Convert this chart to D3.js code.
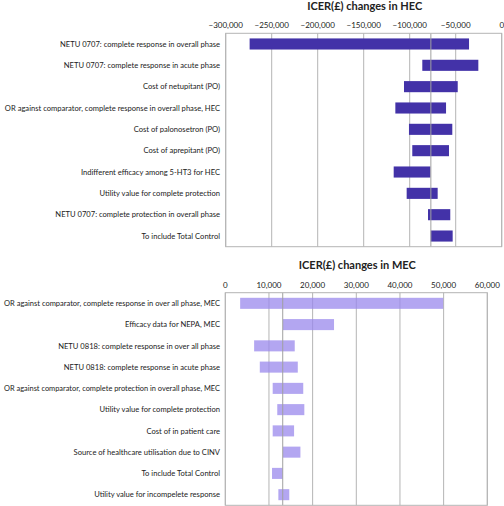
<!DOCTYPE html>
<html><head><meta charset="utf-8">
<script src="https://cdn.jsdelivr.net/npm/d3@7"></script>
<style>
body{margin:0;background:#fff;}
svg{display:block;}
text{font-family:Lato,"Open Sans",sans-serif;fill:#222;}
</style></head>
<body>
<svg id="chart" width="504" height="506"></svg>
<script>
const hecCategories = [
  "NETU 0707: complete response in overall phase",
  "NETU 0707: complete response in acute phase",
  "Cost of netupitant (PO)",
  "OR against comparator, complete response in overall phase, HEC",
  "Cost of palonosetron (PO)",
  "Cost of aprepitant (PO)",
  "Indifferent efficacy among 5-HT3 for HEC",
  "Utility value for complete protection",
  "NETU 0707: complete protection in overall phase",
  "To include Total Control"
];
const hecLow  = [-274000, -86300, -106200, -115600, -100800, -97200, -117400, -103300, -80100, -77200];
const hecHigh = [-35500, -25400, -47800, -60500, -53700, -57300, -77500, -69600, -55900, -53300];
const hecBase = -77000;
const hecTicks = [-300000, -250000, -200000, -150000, -100000, -50000, 0];

const mecCategories = [
  "OR against comparator, complete response in over all phase, MEC",
  "Efficacy data for NEPA, MEC",
  "NETU 0818: complete response in over all phase",
  "NETU 0818: complete response in acute phase",
  "OR against comparator, complete protection in overall phase, MEC",
  "Utility value for complete protection",
  "Cost of in patient care",
  "Source of healthcare utilisation due to CINV",
  "To include Total Control",
  "Utility value for incompelete response"
];
const mecLow  = [3400, 13200, 6600, 7900, 10850, 11900, 10850, 13200, 10700, 12150];
const mecHigh = [49900, 24900, 15900, 16600, 17850, 18100, 15750, 17200, 13150, 14650];
const mecBase = 13150;
const mecTicks = [0, 10000, 20000, 30000, 40000, 50000, 60000];

const svg = d3.select("#chart");
const fmt = v => v === 0 ? "0" : d3.format(",")(v).replace("-", "\u2212");

function panel(opts) {
  const g = svg.append("g");
  const x = d3.scaleLinear().domain(opts.domain).range([opts.x0, opts.x1]);
  const y = d3.scaleBand().domain(opts.cats).range([opts.y0, opts.y1]).paddingInner(0.48).paddingOuter(0.24);
  g.append("text").attr("x", (opts.x0 + opts.x1) / 2 + 1).attr("y", opts.titleY)
    .attr("text-anchor", "middle").attr("font-size", 11).attr("font-weight", "bold")
    .text(opts.title);
  g.selectAll(".tl").data(opts.ticks).join("text")
    .attr("x", d => x(d)).attr("y", opts.tickY)
    .attr("text-anchor", "middle").attr("font-size", 8).attr("fill", "#333")
    .text(fmt);
  g.selectAll(".gl").data(opts.ticks).join("line")
    .attr("x1", d => x(d)).attr("x2", d => x(d))
    .attr("y1", opts.y0).attr("y2", opts.y1)
    .attr("stroke", "#b4b4b4").attr("stroke-width", 1);
  g.selectAll(".bar").data(opts.cats).join("rect")
    .attr("x", (d, i) => x(opts.low[i]))
    .attr("width", (d, i) => x(opts.high[i]) - x(opts.low[i]))
    .attr("y", d => y(d)).attr("height", y.bandwidth())
    .attr("fill", opts.color).attr("fill-opacity", opts.opacity);
  g.append("line").attr("x1", x(opts.base)).attr("x2", x(opts.base))
    .attr("y1", opts.y0).attr("y2", opts.y1)
    .attr("stroke", "#a0a0a0").attr("stroke-width", 1);
  g.append("rect").attr("x", opts.x0).attr("y", opts.y0)
    .attr("width", opts.x1 - opts.x0).attr("height", opts.y1 - opts.y0)
    .attr("fill", "none").attr("stroke", "#b4b4b4").attr("stroke-width", 1);
  const labels = g.selectAll(".cl").data(opts.cats).join("text")
    .attr("x", 220).attr("y", d => y(d) + y.bandwidth() / 2)
    .attr("dy", "0.35em").attr("text-anchor", "end").attr("font-size", 7.6)
    .text(d => d);
  // keep every label inside the window
  labels.each(function() {
    const w = this.getComputedTextLength();
    if (w > 216) d3.select(this).attr("textLength", 216).attr("lengthAdjust", "spacingAndGlyphs");
  });
}

panel({
  title: "ICER(\u00a3) changes in HEC", titleY: 10, tickY: 28,
  domain: [-300000, 0], x0: 225.7, x1: 501.7, y0: 33.3, y1: 246.7,
  cats: hecCategories, low: hecLow, high: hecHigh, base: hecBase, ticks: hecTicks,
  color: "#4332a8", opacity: 1
});
panel({
  title: "ICER(\u00a3) changes in MEC", titleY: 269, tickY: 288,
  domain: [0, 60000], x0: 225.3, x1: 487.3, y0: 292.7, y1: 505.3,
  cats: mecCategories, low: mecLow, high: mecHigh, base: mecBase, ticks: mecTicks,
  color: "#9a88ec", opacity: 0.75
});
</script>
</body></html>
